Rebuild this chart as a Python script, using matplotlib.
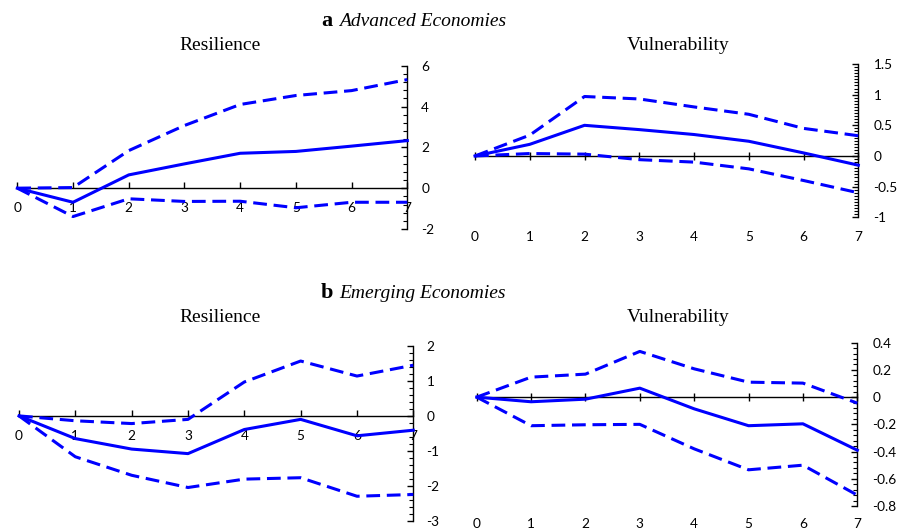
import matplotlib
matplotlib.use("Agg")
import matplotlib.pyplot as plt
from matplotlib.ticker import MultipleLocator

# ---------------- data ----------------
horizon = [0, 1, 2, 3, 4, 5, 6, 7]

adv_res_mid = [0, -0.69, 0.65, 1.19, 1.71, 1.80, 2.06, 2.33]
adv_res_up = [0, 0.03, 1.84, 3.07, 4.10, 4.54, 4.78, 5.32]
adv_res_lo = [0, -1.39, -0.52, -0.65, -0.64, -0.96, -0.69, -0.69]

adv_vul_mid = [0, 0.19, 0.50, 0.43, 0.35, 0.24, 0.05, -0.15]
adv_vul_up = [0, 0.34, 0.97, 0.93, 0.80, 0.68, 0.45, 0.33]
adv_vul_lo = [0, 0.04, 0.03, -0.06, -0.10, -0.21, -0.40, -0.60]

em_res_mid = [0, -0.65, -0.95, -1.08, -0.39, -0.10, -0.57, -0.41]
em_res_up = [0, -0.14, -0.22, -0.10, 0.97, 1.57, 1.14, 1.45]
em_res_lo = [0, -1.17, -1.70, -2.05, -1.81, -1.77, -2.30, -2.25]

em_vul_mid = [0, -0.034, -0.015, 0.066, -0.086, -0.21, -0.196, -0.39]
em_vul_up = [0, 0.147, 0.169, 0.336, 0.208, 0.11, 0.103, -0.044]
em_vul_lo = [0, -0.21, -0.203, -0.20, -0.38, -0.534, -0.50, -0.72]

panel_titles = ["Resilience", "Vulnerability"]
group_letters = ["a", "b"]
group_names = ["Advanced Economies", "Emerging Economies"]

# ---------------- layout ----------------
W, H = 899, 532
fig = plt.figure(figsize=(W / 100, H / 100), dpi=100)

def rect(x0, x1, ytop, ybot):
    return [x0 / W, 1 - ybot / H, (x1 - x0) / W, (ybot - ytop) / H]

BLUE = "#0000ff"
TICKFONT = "Lato"
TFS = 9.8
SERIF = "Liberation Serif"

panels = [
    (rect(17.3, 407.3, 65.7, 229.0), (adv_res_mid, adv_res_up, adv_res_lo), (-2, 6), 2, 0.4, True, 10, 10),
    (rect(475.0, 858.3, 64.0, 217.3), (adv_vul_mid, adv_vul_up, adv_vul_lo), (-1, 1.5), 0.5, 0.05, False, 11, 10),
    (rect(19.0, 413.3, 346.0, 520.7), (em_res_mid, em_res_up, em_res_lo), (-3, 2), 1, 0.2, True, 9.5, 10),
    (rect(476.7, 857.3, 342.7, 506.0), (em_vul_mid, em_vul_up, em_vul_lo), (-0.8, 0.4), 0.2, 0.04, False, 11, 8.5),
]

def fmt(v, step):
    if step >= 1:
        return "%d" % round(v)
    return "%g" % round(v, 2)

for r, (mid, up, lo), ylim, major, minor, on_zero, ypad, xpad in panels:
    ax = fig.add_axes(r)
    ax.set_xlim(0, 7)
    ax.set_ylim(*ylim)
    ax.patch.set_alpha(0)
    for s in ["left", "top"]:
        ax.spines[s].set_visible(False)
    ax.spines["right"].set_linewidth(1.0)
    ax.spines["bottom"].set_position(("data", 0))
    ax.spines["bottom"].set_linewidth(1.0)

    ax.plot(horizon, mid, color=BLUE, lw=2.2, clip_on=False, zorder=3)
    ax.plot(horizon, up, color=BLUE, lw=2.2, dashes=(4.5, 2.2), clip_on=False, zorder=3)
    ax.plot(horizon, lo, color=BLUE, lw=2.2, dashes=(4.5, 2.2), clip_on=False, zorder=3)

    ax.yaxis.tick_right()
    ax.yaxis.set_major_locator(MultipleLocator(major))
    ax.yaxis.set_minor_locator(MultipleLocator(minor))
    yt = ax.get_yticks()
    yt = [v for v in yt if ylim[0] - 1e-9 <= v <= ylim[1] + 1e-9]
    ax.set_yticks(yt)
    ax.set_yticklabels([fmt(v, major) for v in yt], fontfamily=TICKFONT, fontsize=TFS, ha="left")
    ax.tick_params(axis="y", which="major", direction="in", length=4, width=1, pad=ypad)
    ax.tick_params(axis="y", which="minor", direction="in", length=3, width=0.8)

    ax.set_xticks(horizon)
    if on_zero:
        ax.set_xticklabels([str(h) for h in horizon], fontfamily=TICKFONT, fontsize=TFS)
        ax.tick_params(axis="x", direction="in", length=4, width=1, pad=xpad)
    else:
        ax.tick_params(axis="x", direction="inout", length=6, width=1, labelbottom=False)
        sec = ax.secondary_xaxis("bottom")
        sec.spines["bottom"].set_visible(False)
        sec.set_xticks(horizon)
        sec.set_xticklabels([str(h) for h in horizon], fontfamily=TICKFONT, fontsize=TFS)
        sec.tick_params(length=0, pad=xpad)

# ---------------- titles ----------------
title_rows = [(26.5, 50.0), (298.3, 321.7)]
for (ybase, ysub), letter, name in zip(title_rows, group_letters, group_names):
    fig.text(321.0 / W, 1 - ybase / H, letter, fontfamily=SERIF, fontweight="bold",
             fontsize=16, ha="left", va="baseline")
    fig.text(339.0 / W, 1 - ybase / H, name, fontfamily=SERIF, fontstyle="italic",
             fontsize=14, ha="left", va="baseline")
    fig.text(220.0 / W, 1 - ysub / H, panel_titles[0], fontfamily=SERIF,
             fontsize=14, ha="center", va="baseline")
    fig.text(678.0 / W, 1 - ysub / H, panel_titles[1], fontfamily=SERIF,
             fontsize=14, ha="center", va="baseline")

fig.savefig("out.png", dpi=100)
